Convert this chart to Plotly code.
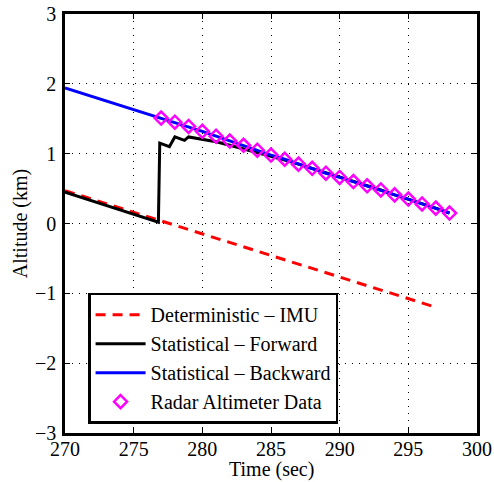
import plotly.graph_objects as go

# Deterministic - IMU
imu_t = [270, 297]
imu_alt = [0.47, -1.20]

# Statistical - Forward
fwd_t = [270, 276.8, 276.9, 277.6, 278.0, 278.7, 279.0, 280, 281, 282, 283, 284, 285, 286,
         287, 288, 289, 290, 291, 292, 293, 294, 295, 296, 297, 298]
fwd_alt = [0.45, 0.02, 1.15, 1.10, 1.24, 1.19, 1.24, 1.21, 1.17, 1.12, 1.07, 1.02, 0.97, 0.91,
           0.85, 0.79, 0.72, 0.66, 0.60, 0.54, 0.48, 0.41, 0.35, 0.28, 0.22, 0.15]

# Radar altimeter data
radar_t = list(range(277, 299))
radar_alt = [1.51, 1.45, 1.39, 1.32, 1.25, 1.18, 1.12, 1.05, 0.98, 0.92, 0.85,
             0.79, 0.72, 0.66, 0.60, 0.54, 0.48, 0.41, 0.35, 0.28, 0.22, 0.15]

# Statistical - Backward
bwd_t = [270] + radar_t
bwd_alt = [1.94] + radar_alt

x_ticks = [270, 275, 280, 285, 290, 295, 300]
y_ticks = [-3, -2, -1, 0, 1, 2, 3]
x_title = "Time (sec)"
y_title = "Altitude (km)"

FONT = "Liberation Serif, Times New Roman, serif"
FS = 20

fig = go.Figure()
fig.add_trace(go.Scatter(x=imu_t, y=imu_alt, mode="lines", name="Deterministic – IMU",
                         line=dict(color="#ff0000", width=3, dash="10px,7px")))
fig.add_trace(go.Scatter(x=fwd_t, y=fwd_alt, mode="lines", name="Statistical – Forward",
                         line=dict(color="#000000", width=3)))
fig.add_trace(go.Scatter(x=bwd_t, y=bwd_alt, mode="lines", name="Statistical – Backward",
                         line=dict(color="#0000ff", width=3)))
fig.add_trace(go.Scatter(x=radar_t, y=radar_alt, mode="markers", name="Radar Altimeter Data",
                         marker=dict(symbol="diamond-open", size=10, color="#ff00ff",
                                     line=dict(width=2.5, color="#ff00ff"))))

axis_common = dict(
    showline=True, linecolor="black", linewidth=2.5, mirror="ticks",
    ticks="inside", ticklen=5, tickwidth=1, tickcolor="black",
    showgrid=True, gridcolor="black", gridwidth=1, griddash="1px,6px",
    zeroline=False, tickfont=dict(family=FONT, size=FS, color="black"),
    automargin=False,
)

fig.update_xaxes(range=[270, 300], tickvals=x_ticks, ticktext=[str(v) for v in x_ticks],
                 ticklabelstandoff=-4,
                 **axis_common)
fig.update_yaxes(range=[-3, 3], tickvals=y_ticks,
                 ticktext=[("−" + str(-v)) if v < 0 else str(v) for v in y_ticks],
                 ticklabelstandoff=2,
                 title=dict(text=y_title, font=dict(family=FONT, size=FS, color="black"),
                            standoff=2),
                 **axis_common)

fig.add_annotation(text=x_title, xref="paper", yref="paper", x=0.5, y=-0.119,
                   xanchor="center", yanchor="bottom", showarrow=False,
                   font=dict(family=FONT, size=FS, color="black"))

fig.update_layout(
    width=494, height=482,
    margin=dict(l=65, r=17, t=14, b=49),
    paper_bgcolor="white", plot_bgcolor="white",
    font=dict(family=FONT, size=FS, color="black"),
    showlegend=True,
    legend=dict(x=0.056, y=0.335, xanchor="left", yanchor="top",
                bgcolor="white", bordercolor="black", borderwidth=2.5,
                font=dict(family=FONT, size=FS, color="black"),
                itemwidth=50, tracegroupgap=0),
)

fig.write_html("out.html", config={"displayModeBar": False},
               post_script="document.body.style.margin='0';document.body.style.padding='0';")
